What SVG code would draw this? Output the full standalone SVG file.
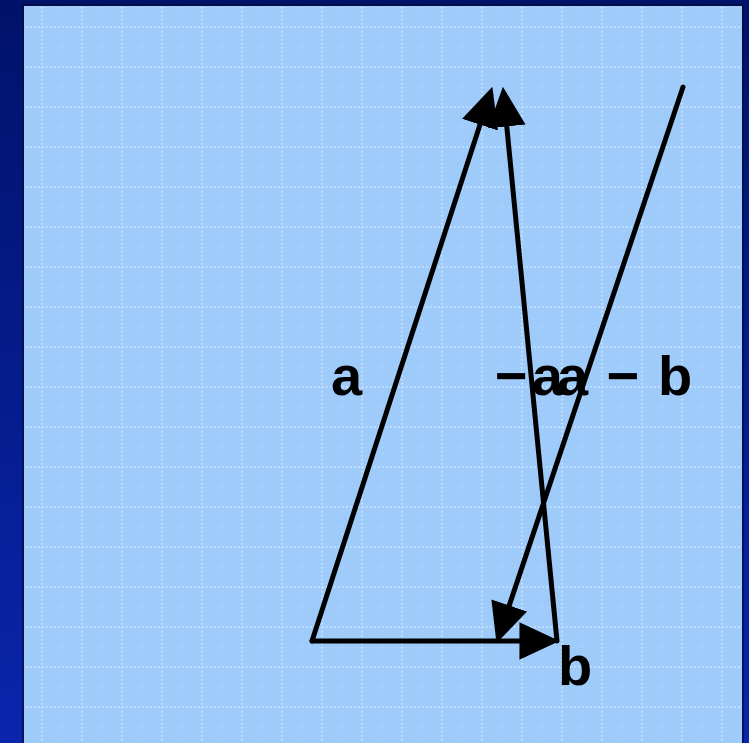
<svg xmlns="http://www.w3.org/2000/svg" width="749" height="743" viewBox="0 0 749 743">
<defs>
<linearGradient id="bg" x1="0" y1="0" x2="0" y2="1">
<stop offset="0" stop-color="#00126a"/>
<stop offset="1" stop-color="#0a25ac"/>
</linearGradient>
<pattern id="grid" x="22" y="7" width="40" height="40" patternUnits="userSpaceOnUse">
<line x1="20" y1="0" x2="20" y2="40" stroke="#d4e9ff" stroke-width="1.6" stroke-dasharray="1.6 2.4"/>
<line x1="0" y1="20" x2="40" y2="20" stroke="#d4e9ff" stroke-width="1.6" stroke-dasharray="1.6 2.4"/>
<line x1="0" y1="0" x2="0" y2="40" stroke="#c4e0ff" stroke-width="1.2" stroke-dasharray="2 4" opacity="0.7"/>
<line x1="0" y1="0" x2="40" y2="0" stroke="#c4e0ff" stroke-width="1.2" stroke-dasharray="2 4" opacity="0.7"/>
</pattern>
<marker id="arr" markerUnits="userSpaceOnUse" markerWidth="40" markerHeight="40" viewBox="0 0 34 32" refX="26" refY="16" orient="auto">
<path d="M0,0 L34,16 L0,32 z" fill="#000"/>
</marker>
</defs>
<style>
.vec{stroke:#000;stroke-width:5;fill:none;stroke-linecap:round;marker-end:url(#arr)}
.lbl{font-family:"Liberation Sans",Arial,sans-serif;font-weight:bold;font-size:56px;fill:#000}
</style>
<rect x="0" y="0" width="749" height="743" fill="url(#bg)"/>
<rect x="22" y="4" width="722" height="745" fill="#000a30" opacity="0.6"/>
<rect x="24" y="6" width="718" height="745" fill="#9fcbfa"/>
<rect x="24" y="6" width="718" height="745" fill="url(#grid)"/>
<g id="connectors">
<line id="vec-a" class="vec" x1="312" y1="641" x2="489.5" y2="95.6"/>
<line id="vec-b" class="vec" x1="312" y1="641" x2="550" y2="641"/>
<line id="vec-neg-a" class="vec" x1="557" y1="641" x2="503.8" y2="96"/>
<line id="vec-a-minus-b" class="vec" x1="683" y1="87" x2="499.5" y2="634.4"/>
</g>
<g id="label-a"><text class="lbl" x="331" y="395">a</text></g>
<g id="label-neg-a"><text class="lbl" x="495" y="395" letter-spacing="4">−a</text></g>
<g id="label-a-minus-b"><text class="lbl" x="557" y="395" word-spacing="3">a − b</text></g>
<g id="label-b"><text class="lbl" x="558" y="685">b</text></g>
</svg>
